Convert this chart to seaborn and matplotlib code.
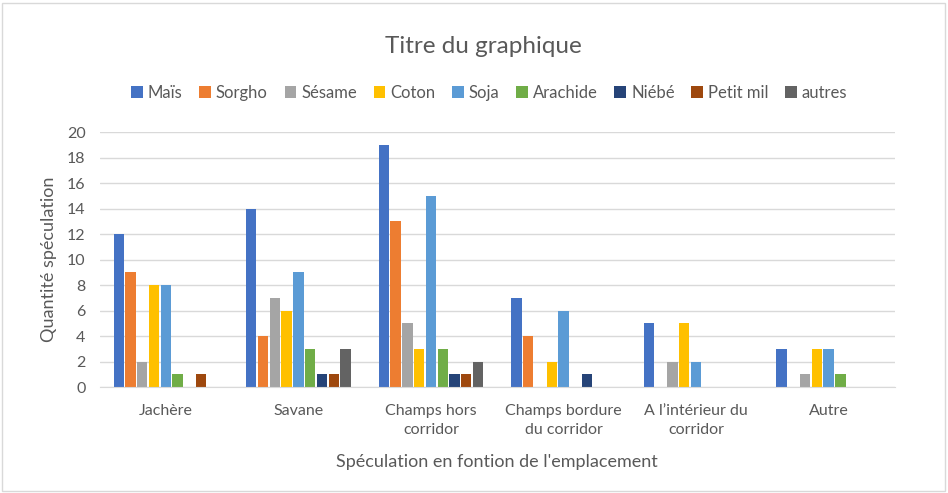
import pandas as pd
import matplotlib.pyplot as plt
import seaborn as sns
from matplotlib.patches import Rectangle

# données
emplacements = ["Jachère", "Savane", "Champs hors\ncorridor", "Champs bordure\ndu corridor",
                "A l’intérieur du\ncorridor", "Autre"]
cultures = ["Maïs", "Sorgho", "Sésame", "Coton", "Soja", "Arachide", "Niébé", "Petit mil", "autres"]
mais = [12, 14, 19, 7, 5, 3]
sorgho = [9, 4, 13, 4, 0, 0]
sesame = [2, 7, 5, 0, 2, 1]
coton = [8, 6, 3, 2, 5, 3]
soja = [8, 9, 15, 6, 2, 3]
arachide = [1, 3, 3, 0, 0, 1]
niebe = [0, 1, 1, 1, 0, 0]
petit_mil = [1, 1, 1, 0, 0, 0]
autres = [0, 3, 2, 0, 0, 0]

couleurs = ["#4472C4", "#ED7D31", "#A5A5A5", "#FFC000", "#5B9BD5",
            "#70AD47", "#264478", "#9E480E", "#636363"]

series = [mais, sorgho, sesame, coton, soja, arachide, niebe, petit_mil, autres]
rows = []
for nom, vals in zip(cultures, series):
    for emp, v in zip(emplacements, vals):
        rows.append({"Emplacement": emp, "Culture": nom, "Quantité": v})
df = pd.DataFrame(rows)

sns.set_style("white")
plt.rcParams['font.family'] = ['Lato', 'DejaVu Sans']

fig = plt.figure(figsize=(9.48, 4.93), dpi=100)
ax = fig.add_axes([0.105, 0.215, 0.839, 0.517])

sns.barplot(data=df, x="Emplacement", y="Quantité", hue="Culture", order=emplacements,
            hue_order=cultures, palette=couleurs, saturation=1, width=0.8, gap=0.12,
            linewidth=0, ax=ax, legend=True)

ax.set_ylim(0, 20)
ax.set_yticks(range(0, 21, 2))
ax.yaxis.grid(True, color="#d9d9d9", linewidth=1)
ax.set_axisbelow(True)
for s in ["top", "right", "left"]:
    ax.spines[s].set_visible(False)
ax.spines["bottom"].set_color("#d9d9d9")
ax.tick_params(axis="both", length=0, colors="#595959", labelsize=11.5)
ax.tick_params(axis="y", pad=10)
ax.tick_params(axis="x", pad=12)
for lab in ax.get_xticklabels():
    lab.set_linespacing(1.5)
ax.set_xlabel("Spéculation en fontion de l'emplacement", fontsize=13, color="#595959", labelpad=12)
ax.set_ylabel("Quantité spéculation", fontsize=13, color="#595959", labelpad=7)

ax.legend(loc="center", bbox_to_anchor=(0.49, 1.155), ncol=9, frameon=False,
          fontsize=12, handlelength=0.7, handleheight=0.7, handletextpad=0.3,
          columnspacing=1.0, labelcolor="#595959")

fig.text(0.51, 0.905, "Titre du graphique", ha="center", va="center", fontsize=17.5, color="#595959")
fig.patches.append(Rectangle((0.002, 0.004), 0.995, 0.99, transform=fig.transFigure,
                             fill=False, edgecolor="#d9d9d9", linewidth=1))

plt.savefig("out.png", dpi=100)
